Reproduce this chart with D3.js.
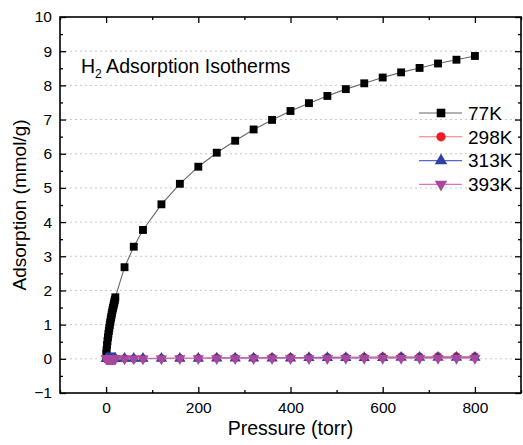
<!DOCTYPE html>
<html>
<head>
<meta charset="utf-8">
<script src="https://cdn.jsdelivr.net/npm/d3@7"></script>
<style>
  body { margin: 0; background: #fff; }
  text { font-family: "Liberation Sans", Arial, sans-serif; }
</style>
</head>
<body>
<div id="chart"></div>
<script>
// pressure points (torr), same for every temperature
var pressure = [0.5, 1, 2, 3, 4, 5, 6, 7, 8, 9, 10, 11, 12, 13, 14, 15, 16, 17, 18, 19, 20,
  40, 60, 80, 120, 160, 200, 240, 280, 320, 360, 400, 440, 480, 520, 560, 600, 640, 680, 720, 760, 800];

// adsorption (mmol/g)
var k77 = [0.15, 0.25, 0.4, 0.52, 0.63, 0.73, 0.82, 0.91, 0.99, 1.07, 1.15, 1.22, 1.29, 1.36, 1.43, 1.49, 1.55, 1.61, 1.67, 1.73, 1.8,
  2.68, 3.28, 3.77, 4.52, 5.12, 5.62, 6.03, 6.38, 6.71, 6.99, 7.25, 7.48, 7.69, 7.89, 8.06, 8.23, 8.38, 8.51, 8.64, 8.75, 8.86];
var k298 = [0.0, 0.0, 0.0, 0.0, 0.0, 0.0, 0.0, 0.0, 0.0, 0.0, 0.0, 0.01, 0.01, 0.01, 0.01, 0.01, 0.01, 0.01, 0.01, 0.01, 0.01,
  0.01, 0.01, 0.01, 0.02, 0.02, 0.02, 0.03, 0.03, 0.03, 0.04, 0.04, 0.04, 0.05, 0.05, 0.05, 0.06, 0.06, 0.06, 0.07, 0.07, 0.07];
var k313 = [0.0, 0.0, 0.0, 0.0, 0.0, 0.0, 0.0, 0.0, 0.0, 0.0, 0.0, 0.0, 0.0, 0.0, 0.0, 0.0, 0.0, 0.0, 0.0, 0.01, 0.01,
  0.01, 0.01, 0.01, 0.01, 0.01, 0.01, 0.02, 0.02, 0.02, 0.02, 0.02, 0.03, 0.03, 0.03, 0.03, 0.03, 0.04, 0.04, 0.04, 0.04, 0.04];
var k393 = [0.0, 0.0, 0.0, 0.0, 0.0, 0.0, 0.0, 0.0, 0.0, 0.0, 0.0, 0.0, 0.0, 0.0, 0.0, 0.0, 0.0, 0.0, 0.0, 0.0, 0.0,
  0.0, 0.0, 0.0, 0.0, 0.01, 0.01, 0.01, 0.01, 0.01, 0.01, 0.01, 0.01, 0.01, 0.02, 0.02, 0.02, 0.02, 0.02, 0.02, 0.02, 0.02];

var seriesNames = ["77K", "298K", "313K", "393K"];
var seriesValues = [k77, k298, k313, k393];
var markerColors = ["#000000", "#ee1c25", "#3040a0", "#a8489c"];
var lineColors = ["#666666", "#f07878", "#5566cc", "#e070c8"];
var symbols = [d3.symbolSquare, d3.symbolCircle, d3.symbolTriangle, d3.symbolTriangle];
var symbolRot = [0, 0, 0, 180];
var symbolSize = [62, 55, 55, 55];

var xTicks = [0, 200, 400, 600, 800];
var yTicks = [-1, 0, 1, 2, 3, 4, 5, 6, 7, 8, 9, 10];

var width = 523, height = 445;
var margin = {top: 17, right: 2, bottom: 52, left: 60};
var iw = width - margin.left - margin.right;
var ih = height - margin.top - margin.bottom;

var svg = d3.select("#chart").append("svg")
    .attr("width", width)
    .attr("height", height);

var g = svg.append("g")
    .attr("transform", "translate(" + margin.left + "," + margin.top + ")");

var x = d3.scaleLinear().domain([-100, 900]).range([0, iw]);
var y = d3.scaleLinear().domain([-1, 10]).range([ih, 0]);

// dotted grid lines
g.append("g")
  .selectAll("line")
  .data(yTicks.slice(1, -1))
  .enter()
  .append("line")
    .attr("x1", 0)
    .attr("x2", iw)
    .attr("y1", function(d) { return y(d); })
    .attr("y2", function(d) { return y(d); })
    .attr("stroke", "#c8c8c8")
    .attr("stroke-width", 1)
    .attr("stroke-dasharray", "2,3");

// axes, ticks pointing inwards
function styleAxis(sel) {
  sel.select(".domain").remove();
  sel.selectAll("line").attr("stroke", "#000").attr("stroke-width", 1.3);
  sel.selectAll("text").style("font-size", "15.5px").attr("fill", "#000");
}

var xMinor = [-100, 100, 300, 500, 700, 900];
var yMinor = d3.range(-0.5, 10, 1);

g.append("g").attr("transform", "translate(0," + ih + ")")
  .call(d3.axisBottom(x).tickValues(xTicks).tickSize(-6).tickPadding(9))
  .call(styleAxis);
g.append("g").attr("transform", "translate(0," + ih + ")")
  .call(d3.axisBottom(x).tickValues(xMinor).tickSize(-3).tickFormat(""))
  .call(styleAxis);
g.append("g")
  .call(d3.axisTop(x).tickValues(xTicks).tickSize(-6).tickFormat(""))
  .call(styleAxis);
g.append("g")
  .call(d3.axisTop(x).tickValues(xMinor).tickSize(-3).tickFormat(""))
  .call(styleAxis);

g.append("g")
  .call(d3.axisLeft(y).tickValues(yTicks).tickSize(-6).tickPadding(8))
  .call(styleAxis);
g.append("g")
  .call(d3.axisLeft(y).tickValues(yMinor).tickSize(-3).tickFormat(""))
  .call(styleAxis);
g.append("g").attr("transform", "translate(" + iw + ",0)")
  .call(d3.axisRight(y).tickValues(yTicks).tickSize(-6).tickFormat(""))
  .call(styleAxis);
g.append("g").attr("transform", "translate(" + iw + ",0)")
  .call(d3.axisRight(y).tickValues(yMinor).tickSize(-3).tickFormat(""))
  .call(styleAxis);

// frame
g.append("rect")
  .attr("width", iw)
  .attr("height", ih)
  .attr("fill", "none")
  .attr("stroke", "#000")
  .attr("stroke-width", 1.6);

// series
var line = d3.line()
  .x(function(d) { return x(d[0]); })
  .y(function(d) { return y(d[1]); });

seriesValues.forEach(function(vals, i) {
  var pts = pressure.map(function(p, j) { return [p, vals[j]]; });
  var sg = g.append("g");
  sg.append("path")
    .datum(pts)
    .attr("d", line)
    .attr("fill", "none")
    .attr("stroke", lineColors[i])
    .attr("stroke-width", 1.1);
  sg.selectAll("path.pt")
    .data(pts)
    .enter()
    .append("path")
      .attr("class", "pt")
      .attr("transform", function(d) {
        return "translate(" + x(d[0]) + "," + y(d[1]) + ") rotate(" + symbolRot[i] + ")";
      })
      .attr("d", d3.symbol().type(symbols[i]).size(symbolSize[i]))
      .attr("fill", markerColors[i]);
});

// chart title inside the plot
var title = g.append("text")
  .attr("x", 21)
  .attr("y", 56)
  .style("font-size", "19.5px")
  .attr("fill", "#000");
title.append("tspan").text("H");
title.append("tspan").attr("dy", 5).style("font-size", "12px").text("2");
title.append("tspan").attr("dy", -5).text(" Adsorption Isotherms");

// legend
var legend = g.append("g").attr("transform", "translate(" + (iw - 102) + ",96)");
seriesNames.forEach(function(name, i) {
  var row = legend.append("g").attr("transform", "translate(0," + (i * 23.8) + ")");
  row.append("line")
    .attr("x1", 0).attr("x2", 43)
    .attr("stroke", lineColors[i])
    .attr("stroke-width", 1.1);
  row.append("path")
    .attr("transform", "translate(22,0) rotate(" + symbolRot[i] + ")")
    .attr("d", d3.symbol().type(symbols[i]).size(symbolSize[i] + 12))
    .attr("fill", markerColors[i]);
  row.append("text")
    .attr("x", 49)
    .attr("dy", "0.36em")
    .style("font-size", "19px")
    .text(name);
});

// axis titles
svg.append("text")
  .attr("x", margin.left + iw / 2)
  .attr("y", 435)
  .attr("text-anchor", "middle")
  .style("font-size", "19.5px")
  .text("Pressure (torr)");

svg.append("text")
  .attr("transform", "translate(26," + (margin.top + ih / 2) + ") rotate(-90)")
  .attr("text-anchor", "middle")
  .style("font-size", "19px")
  .text("Adsorption (mmol/g)");
</script>
</body>
</html>
